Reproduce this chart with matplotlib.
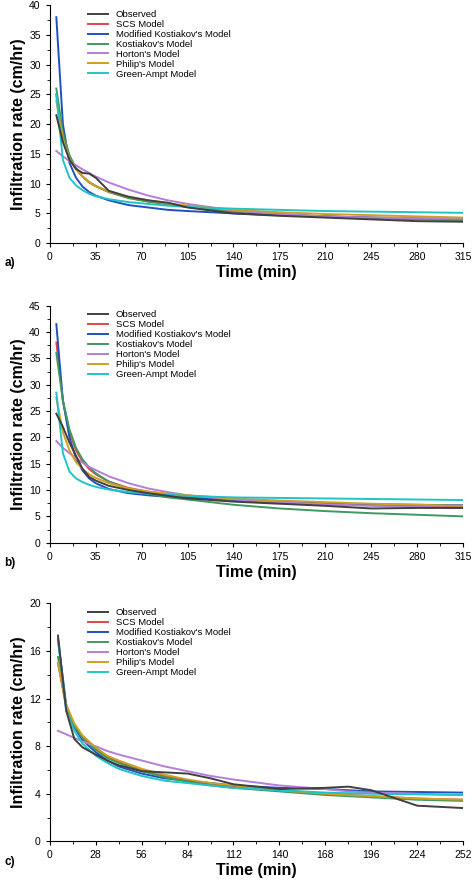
import matplotlib
matplotlib.use("Agg")
import matplotlib.pyplot as plt
from matplotlib.ticker import MultipleLocator, AutoMinorLocator

plt.rcParams['font.family'] = ['Liberation Sans', 'DejaVu Sans']

names = ["Observed", "SCS Model", "Modified Kostiakov's Model", "Kostiakov's Model",
         "Horton's Model", "Philip's Model", "Green-Ampt Model"]
colors = ["#404040", "#e04848", "#2050c0", "#3f9a60", "#b57ed8", "#d0a020", "#20c4c8"]

t_ab = [5, 10, 15, 20, 25, 30, 35, 45, 60, 75, 90, 105, 140, 175, 210, 245, 280, 315]
a_obs = [21.5, 17, 14, 12.5, 11.8, 11.7, 11, 8.8, 7.8, 7.2, 6.8, 6.0, 5.0, 4.6, 4.3, 4.0, 3.7, 3.6]
a_scs = [25, 18, 14.5, 12.5, 11.2, 10.2, 9.6, 8.6, 7.6, 7.0, 6.6, 6.1, 5.3, 4.8, 4.5, 4.3, 4.1, 4.0]
a_mk = [38, 20, 13.5, 11, 9.5, 8.6, 8.0, 7.2, 6.4, 6.0, 5.6, 5.4, 5.0, 4.7, 4.5, 4.3, 4.2, 4.1]
a_k = [26, 18.5, 14.8, 12.6, 11.2, 10.3, 9.6, 8.6, 7.6, 7.0, 6.5, 6.1, 5.4, 4.9, 4.5, 4.2, 4.0, 3.8]
a_h = [15.5, 14.6, 13.8, 13.1, 12.4, 11.8, 11.2, 10.2, 9.0, 8.0, 7.2, 6.6, 5.5, 4.9, 4.5, 4.3, 4.2, 4.1]
a_p = [24, 17.5, 14.2, 12.4, 11.2, 10.3, 9.6, 8.7, 7.8, 7.2, 6.7, 6.3, 5.6, 5.2, 4.9, 4.7, 4.5, 4.3]
a_ga = [25, 14, 11, 9.7, 8.9, 8.3, 7.9, 7.4, 6.9, 6.6, 6.3, 6.1, 5.8, 5.6, 5.4, 5.3, 5.2, 5.1]

b_obs = [24.5, 22, 19, 16.5, 14, 12.5, 11.8, 10.8, 10, 9.4, 8.9, 8.4, 7.8, 7.4, 7.0, 6.5, 6.6, 6.6]
b_scs = [38, 27, 21, 17.5, 15.4, 14, 13, 11.6, 10.4, 9.7, 9.2, 8.8, 8.1, 7.6, 7.3, 7.1, 6.9, 6.8]
b_mk = [41.5, 27, 20, 16, 13.7, 12.2, 11.3, 10.2, 9.4, 9.0, 8.7, 8.5, 8.1, 7.8, 7.5, 7.3, 7.2, 7.1]
b_k = [36, 27, 21.5, 18, 15.8, 14.3, 13.2, 11.6, 10.2, 9.3, 8.6, 8.2, 7.2, 6.5, 6.0, 5.6, 5.3, 5.0]
b_h = [19.3, 18, 17, 16, 15.2, 14.4, 13.8, 12.6, 11.3, 10.3, 9.6, 9.0, 8.2, 7.7, 7.3, 7.0, 6.8, 6.6]
b_p = [27.5, 21, 17.5, 15.3, 14, 13, 12.3, 11.3, 10.3, 9.7, 9.3, 9.0, 8.4, 8.0, 7.7, 7.4, 7.2, 7.0]
b_ga = [28.5, 17, 13.5, 12.2, 11.5, 11, 10.6, 10.1, 9.6, 9.3, 9.1, 8.9, 8.6, 8.5, 8.4, 8.3, 8.2, 8.1]

t_c = [5, 10, 15, 20, 28, 35, 42, 56, 70, 84, 98, 112, 140, 168, 182, 196, 224, 252]
c_obs = [17.3, 11, 8.6, 7.9, 7.3, 6.8, 6.4, 5.9, 5.8, 5.7, 5.3, 4.8, 4.4, 4.5, 4.6, 4.3, 3.0, 2.8]
c_scs = [15, 11.3, 9.7, 8.7, 7.8, 7.1, 6.7, 6.0, 5.5, 5.1, 4.8, 4.6, 4.3, 4.0, 3.9, 3.8, 3.6, 3.5]
c_mk = [17, 11.5, 9.6, 8.5, 7.5, 6.8, 6.3, 5.7, 5.3, 5.1, 4.9, 4.7, 4.5, 4.4, 4.3, 4.2, 4.15, 4.1]
c_k = [15.5, 11.4, 9.7, 8.7, 7.7, 7.0, 6.6, 5.9, 5.4, 5.0, 4.7, 4.5, 4.2, 3.9, 3.8, 3.7, 3.5, 3.4]
c_h = [9.3, 9.0, 8.7, 8.4, 8.0, 7.6, 7.3, 6.8, 6.3, 5.9, 5.5, 5.2, 4.7, 4.4, 4.2, 4.1, 4.0, 3.9]
c_p = [15, 11.5, 9.9, 8.9, 7.9, 7.2, 6.8, 6.1, 5.6, 5.2, 4.9, 4.7, 4.3, 4.0, 3.9, 3.8, 3.6, 3.5]
c_ga = [17, 11, 9.3, 8.2, 7.2, 6.6, 6.1, 5.5, 5.1, 4.9, 4.7, 4.5, 4.3, 4.1, 4.05, 4.0, 3.95, 3.9]

panels = [
    ("a)", t_ab, [a_obs, a_scs, a_mk, a_k, a_h, a_p, a_ga], 40, 5, 35, 315, [0.105, 0.724, 0.872, 0.270]),
    ("b)", t_ab, [b_obs, b_scs, b_mk, b_k, b_h, b_p, b_ga], 45, 5, 35, 315, [0.105, 0.384, 0.872, 0.269]),
    ("c)", t_c, [c_obs, c_scs, c_mk, c_k, c_h, c_p, c_ga], 20, 4, 28, 252, [0.105, 0.045, 0.872, 0.270]),
]

fig = plt.figure(figsize=(4.74, 8.81), dpi=100)
for lab, t, series, ymax, ystep, xstep, xmax, rect in panels:
    ax = fig.add_axes(rect)
    order = [1, 2, 3, 4, 5, 6, 0]
    for i in order:
        ax.plot(t, series[i], color=colors[i], lw=1.4, label=names[i], zorder=3 if i == 0 else 2)
    h, l = ax.get_legend_handles_labels()
    idx = [l.index(n) for n in names]
    ax.legend([h[i] for i in idx], [l[i] for i in idx], loc="upper left", frameon=False,
              fontsize=6.8, handlelength=2.2, labelspacing=0.1, borderaxespad=0.1,
              bbox_to_anchor=(0.08, 1.0))
    ax.set_xlim(0, xmax)
    ax.set_ylim(0, ymax)
    ax.xaxis.set_major_locator(MultipleLocator(xstep))
    ax.yaxis.set_major_locator(MultipleLocator(ystep))
    ax.xaxis.set_minor_locator(AutoMinorLocator(2))
    ax.yaxis.set_minor_locator(AutoMinorLocator(2))
    ax.tick_params(labelsize=7.5, direction="out", length=3)
    ax.tick_params(which="minor", length=2)
    for s in ["top", "right"]:
        ax.spines[s].set_visible(False)
    ax.set_xlabel("Time (min)", fontsize=11.5, fontweight="bold", labelpad=2)
    ax.set_ylabel("Infiltration rate (cm/hr)", fontsize=11.5, fontweight="bold", labelpad=2)
    ax.text(-0.11, -0.06, lab, transform=ax.transAxes, fontsize=8.5, fontweight="bold", va="top")

fig.savefig("out.png", dpi=100)
